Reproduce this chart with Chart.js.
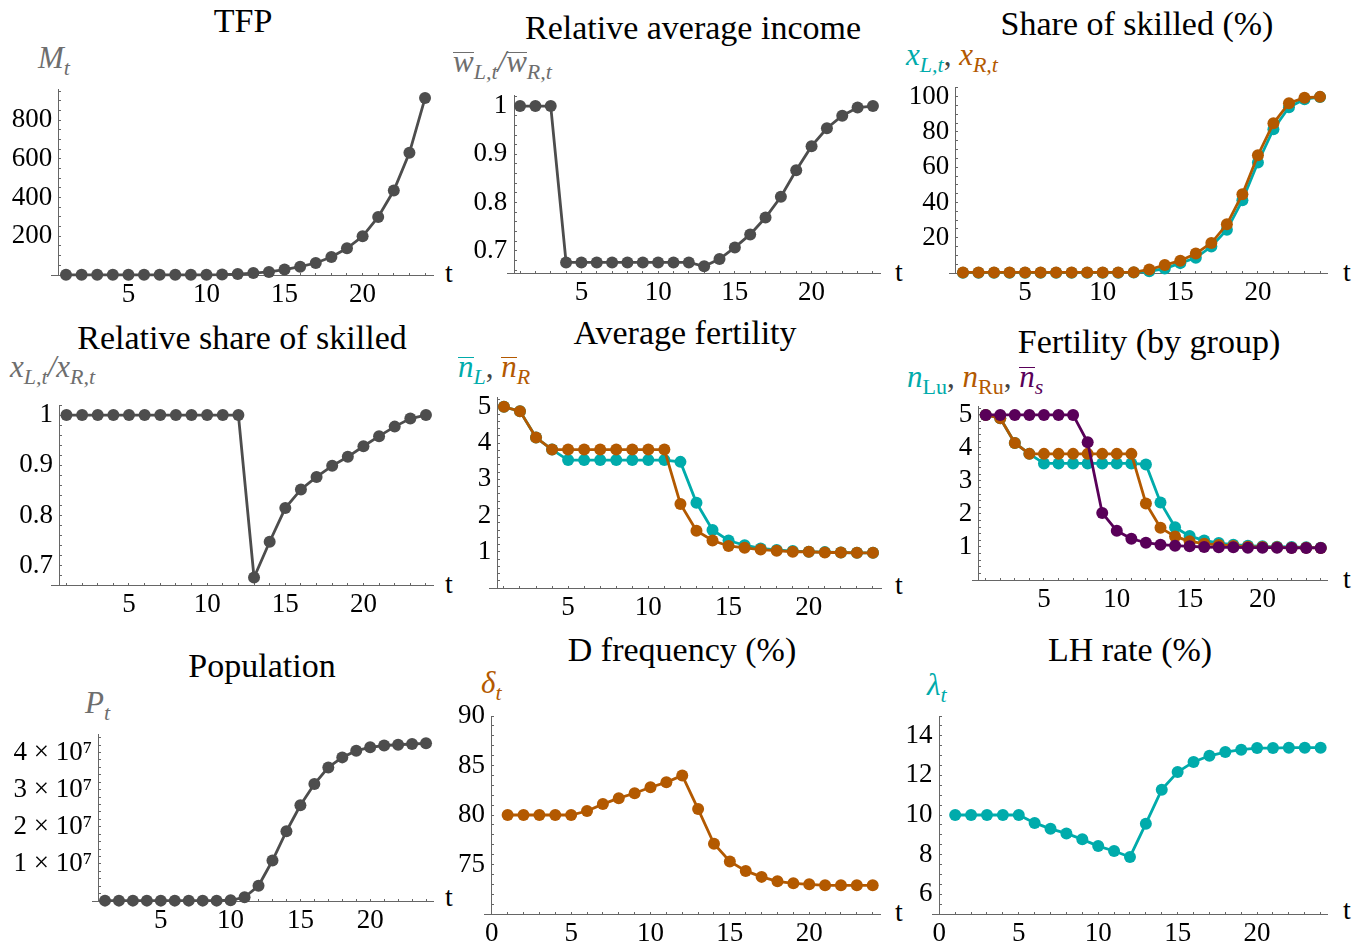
<!DOCTYPE html>
<html lang="en">
<head>
<meta charset="UTF-8">
<title>Simulation panels</title>
<script src="https://cdn.jsdelivr.net/npm/chart.js"></script>
<style>
  body {
    margin: 0;
    width: 1370px;
    height: 949px;
    position: relative;
    overflow: hidden;
    background: #ffffff;
    font-family: "Liberation Serif", "Times New Roman", Tinos, "DejaVu Serif", serif;
  }
  canvas { position: absolute; }
  .ttl {
    position: absolute;
    font-size: 34px;
    line-height: 1;
    white-space: nowrap;
    transform: translateX(-50%);
    color: #000;
  }
  .ax {
    position: absolute;
    font-size: 31px;
    line-height: 1;
    white-space: nowrap;
    font-style: italic;
    color: #6e6e6e;
  }
  .ax .s { font-size: 22px; vertical-align: -7px; }
  .ax .r { font-style: normal; }
  .ax .k { color: #444; font-style: normal; }
  .ob { display: inline-block; border-top: 1.5px solid currentColor; line-height: 0.6em; }
  .tl { position: absolute; font-size: 28px; line-height: 1; color: #000; }
</style>
</head>
<body>
<!-- titles -->
<div class="ttl" style="left:243px;top:4px">TFP</div>
<div class="ttl" style="left:693px;top:11px">Relative average income</div>
<div class="ttl" style="left:1137px;top:7px">Share of skilled (%)</div>
<div class="ttl" style="left:242px;top:321px">Relative share of skilled</div>
<div class="ttl" style="left:685px;top:316px">Average fertility</div>
<div class="ttl" style="left:1149px;top:325px">Fertility (by group)</div>
<div class="ttl" style="left:262px;top:649px">Population</div>
<div class="ttl" style="left:682px;top:633px">D frequency (%)</div>
<div class="ttl" style="left:1130px;top:633px">LH rate (%)</div>

<!-- axis names -->
<div class="ax" style="left:38px;top:42px">M<span class="s">t</span></div>
<div class="ax" style="left:453px;top:46px"><span class="ob">w</span><span class="s">L,t</span>/<span class="ob">w</span><span class="s">R,t</span></div>
<div class="ax" style="left:906px;top:39px"><span style="color:#00abab">x<span class="s">L,t</span></span><span class="k">, </span><span style="color:#b35900">x<span class="s">R,t</span></span></div>
<div class="ax" style="left:10px;top:351px">x<span class="s">L,t</span>/x<span class="s">R,t</span></div>
<div class="ax" style="left:458px;top:351px"><span style="color:#00abab"><span class="ob">n</span><span class="s">L</span></span><span class="k">, </span><span style="color:#b35900"><span class="ob">n</span><span class="s">R</span></span></div>
<div class="ax" style="left:907px;top:361px"><span style="color:#00abab">n<span class="s r">Lu</span></span><span class="k">, </span><span style="color:#b35900">n<span class="s r">Ru</span></span><span class="k">, </span><span style="color:#590059"><span class="ob">n</span><span class="s">s</span></span></div>
<div class="ax" style="left:85px;top:687px">P<span class="s">t</span></div>
<div class="ax" style="left:481px;top:667px;color:#b35900">δ<span class="s">t</span></div>
<div class="ax" style="left:927px;top:669px;color:#00abab">λ<span class="s">t</span></div>

<!-- time labels at the axis ends -->
<div class="tl" style="left:445px;top:259px">t</div>
<div class="tl" style="left:895px;top:258px">t</div>
<div class="tl" style="left:1343px;top:258px">t</div>
<div class="tl" style="left:445px;top:570px">t</div>
<div class="tl" style="left:895px;top:571px">t</div>
<div class="tl" style="left:1343px;top:565px">t</div>
<div class="tl" style="left:445px;top:883px">t</div>
<div class="tl" style="left:895px;top:898px">t</div>
<div class="tl" style="left:1343px;top:896px">t</div>

<script>
  // time periods
  var periods = [1, 2, 3, 4, 5, 6, 7, 8, 9, 10, 11, 12, 13, 14, 15, 16, 17, 18, 19, 20, 21, 22, 23, 24];

  // series
  var tfp = [1, 1, 1, 1, 1, 1, 1, 1, 1, 1, 2, 5, 10, 16, 28, 43, 62, 93, 138, 200, 300, 437, 632, 915];
  var relIncome = [1, 1, 1, 0.676, 0.676, 0.676, 0.676, 0.676, 0.676, 0.676, 0.676, 0.676,
                   0.668, 0.683, 0.707, 0.734, 0.769, 0.812, 0.867, 0.917, 0.954, 0.980, 0.997, 1.0];
  var skilledL = [0.2, 0.2, 0.2, 0.2, 0.2, 0.2, 0.2, 0.2, 0.2, 0.2, 0.2, 0.3,
                  1, 2.5, 5.6, 8.6, 15, 24.5, 41.2, 62.7, 81.6, 94, 98.6, 99.8];
  var skilledR = [0.3, 0.3, 0.3, 0.3, 0.3, 0.3, 0.3, 0.3, 0.3, 0.3, 0.3, 0.4,
                  2, 4.5, 7, 11, 17, 27.6, 44.7, 66.8, 84.9, 96.3, 99.4, 99.9];
  var relSkilled = [1, 1, 1, 1, 1, 1, 1, 1, 1, 1, 1, 1,
                    0.677, 0.748, 0.815, 0.852, 0.877, 0.899, 0.917, 0.938, 0.958, 0.977, 0.993, 1.0];
  var avgFertL = [5, 4.88, 4.15, 3.82, 3.53, 3.53, 3.53, 3.53, 3.53, 3.53, 3.53, 3.48,
                  2.35, 1.6, 1.31, 1.18, 1.09, 1.05, 1.02, 1.0, 0.99, 0.98, 0.97, 0.97];
  var avgFertR = [5, 4.88, 4.15, 3.82, 3.82, 3.82, 3.82, 3.82, 3.82, 3.82, 3.82, 2.32,
                  1.58, 1.31, 1.16, 1.11, 1.06, 1.03, 1.0, 1.0, 0.98, 0.98, 0.97, 0.97];
  var fertLu = [5, 4.9, 4.15, 3.82, 3.53, 3.53, 3.53, 3.53, 3.53, 3.53, 3.53, 3.5,
                2.35, 1.6, 1.33, 1.2, 1.12, 1.07, 1.04, 1.02, 1.01, 1.0, 0.99, 0.98];
  var fertRu = [5, 4.9, 4.15, 3.82, 3.82, 3.82, 3.82, 3.82, 3.82, 3.82, 3.82, 2.32,
                1.58, 1.32, 1.17, 1.1, 1.06, 1.03, 1.01, 1.0, 0.99, 0.98, 0.98, 0.97];
  var fertS = [5, 5, 5, 5, 5, 5, 5, 4.17, 2.03, 1.49, 1.25, 1.13,
               1.07, 1.04, 1.02, 1.0, 0.99, 0.99, 0.98, 0.98, 0.98, 0.97, 0.97, 0.97];
  // population in millions
  var populationM = [0.1, 0.1, 0.1, 0.1, 0.1, 0.1, 0.1, 0.1, 0.1, 0.2, 1.0, 4.1,
                     10.9, 18.8, 25.8, 31.5, 36.0, 38.7, 40.5, 41.4, 41.9, 42.1, 42.3, 42.5];
  var dFreq = [80, 80, 80, 80, 80, 80.4, 81.1, 81.7, 82.2, 82.8, 83.3, 84.0,
               80.6, 77.1, 75.3, 74.35, 73.75, 73.3, 73.1, 73.0, 72.9, 72.9, 72.9, 72.9];
  var lhRate = [10, 10, 10, 10, 10, 9.6, 9.3, 9.07, 8.77, 8.43, 8.18, 7.88,
                9.56, 11.28, 12.17, 12.68, 12.99, 13.18, 13.3, 13.38, 13.38, 13.4, 13.4, 13.4];

  // labelled ticks
  var tTicks = [5, 10, 15, 20];
  var tTicksZero = [0, 5, 10, 15, 20];
  var tfpTicks = [200, 400, 600, 800];
  var ratioTicks = [0.7, 0.8, 0.9, 1];
  var shareTicks = [20, 40, 60, 80, 100];
  var fertTicks = [1, 2, 3, 4, 5];
  var popTicks = [10, 20, 30, 40];
  var popTickText = ['1 × 10⁷', '2 × 10⁷', '3 × 10⁷', '4 × 10⁷'];
  var dTicks = [75, 80, 85, 90];
  var lhTicks = [6, 8, 10, 12, 14];

  var GRAY = '#4d4d4d', TEAL = '#00abab', ORANGE = '#b35900', PURPLE = '#590059';
  var AXIS = '#666666';
  var FONT = '"Liberation Serif", "Times New Roman", Tinos, "DejaVu Serif", serif';
  var ySuffix = ' ';

  function labeler(vals, texts, suffix) {
    return function(v) {
      var i = vals.findIndex(function(a) { return Math.abs(a - v) < 1e-6 * Math.max(1, Math.abs(a)); });
      if (i < 0) return '';
      return (texts ? texts[i] : String(vals[i])) + (suffix || '');
    };
  }

  function series(vals, color, order) {
    return {
      data: periods.map(function(t, i) { return {x: t, y: vals[i]}; }),
      borderColor: color,
      backgroundColor: color,
      pointBackgroundColor: color,
      borderWidth: 2.8,
      pointRadius: 6,
      pointBorderWidth: 0,
      tension: 0,
      clip: false,
      order: order || 0
    };
  }

  function axisOpts(extra) {
    var o = {
      type: 'linear',
      grid: { display: true, drawOnChartArea: false, drawTicks: true, tickLength: -3, tickColor: AXIS, tickWidth: 1 },
      border: { display: true, color: AXIS, width: 1 }
    };
    return Object.assign(o, extra);
  }

  function panel(p) {
    var pad = { left: 110, top: 25, right: 12, bottom: 50 };
    var c = document.createElement('canvas');
    c.width = p.area[2] - p.area[0] + pad.left + pad.right;
    c.height = p.area[3] - p.area[1] + pad.top + pad.bottom;
    c.style.left = (p.area[0] - pad.left) + 'px';
    c.style.top = (p.area[1] - pad.top) + 'px';
    document.body.appendChild(c);

    new Chart(c, {
      type: 'line',
      data: { datasets: p.datasets },
      options: {
        responsive: false,
        animation: false,
        events: [],
        layout: { padding: pad },
        plugins: { legend: { display: false }, tooltip: { enabled: false } },
        scales: {
          x: axisOpts({
            min: p.x[0], max: p.x[1],
            position: { y: p.y[0] },
            ticks: {
              stepSize: 1, autoSkip: false, maxRotation: 0, includeBounds: false, maxTicksLimit: 1000,
              padding: 7, color: '#000', font: { family: FONT, size: 27 },
              callback: labeler(p.xTicks || tTicks)
            }
          }),
          y: axisOpts({
            min: p.y[0], max: p.y[1],
            position: { x: p.yAt },
            ticks: {
              stepSize: p.step, autoSkip: false, includeBounds: false, maxTicksLimit: 1000,
              padding: 6, color: '#000', font: { family: FONT, size: 27 },
              callback: labeler(p.yTicks, p.yText, ySuffix)
            }
          })
        }
      }
    });
  }

  panel({ area: [51, 89, 433, 275], x: [0.04, 24.51], y: [0, 962], yAt: 0.55, step: 50,
          yTicks: tfpTicks, datasets: [series(tfp, GRAY)] });
  panel({ area: [507, 95, 880, 273], x: [0.15, 24.46], y: [0.654, 1.023], yAt: 0.61, step: 0.02,
          yTicks: ratioTicks, datasets: [series(relIncome, GRAY)] });
  panel({ area: [949, 87, 1327, 273], x: [0.1, 24.45], y: [0, 105.5], yAt: 0.55, step: 5,
          yTicks: shareTicks, datasets: [series(skilledR, ORANGE, 0), series(skilledL, TEAL, 1)] });
  panel({ area: [51, 405, 433, 585], x: [0.01, 24.45], y: [0.662, 1.02], yAt: 0.57, step: 0.02,
          yTicks: ratioTicks, datasets: [series(relSkilled, GRAY)] });
  panel({ area: [489, 397, 881, 588], x: [0.07, 24.5], y: [0, 5.27], yAt: 0.63, step: 0.2,
          yTicks: fertTicks, datasets: [series(avgFertR, ORANGE, 0), series(avgFertL, TEAL, 1)] });
  panel({ area: [972, 406, 1327, 580], x: [0.06, 24.43], y: [0, 5.27], yAt: 0.54, step: 0.2,
          yTicks: fertTicks, datasets: [series(fertS, PURPLE, 0), series(fertRu, ORANGE, 1), series(fertLu, TEAL, 2)] });
  panel({ area: [92, 734, 433, 901], x: [0.07, 24.5], y: [0, 45], yAt: 0.57, step: 2,
          yTicks: popTicks, yText: popTickText, datasets: [series(populationM, GRAY)] });
  panel({ area: [484, 716, 880, 914], x: [-0.49, 24.46], y: [70, 90], yAt: 0, step: 1,
          yTicks: dTicks, xTicks: tTicksZero, datasets: [series(dFreq, ORANGE)] });
  panel({ area: [932, 716, 1327, 914], x: [-0.46, 24.4], y: [5, 15], yAt: 0, step: 0.5,
          yTicks: lhTicks, xTicks: tTicksZero, datasets: [series(lhRate, TEAL)] });
</script>
</body>
</html>
